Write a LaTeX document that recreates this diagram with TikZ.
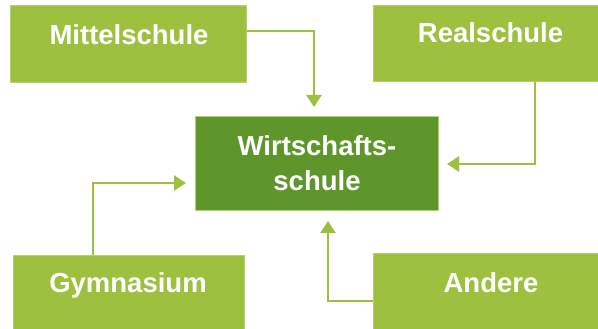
\documentclass[tikz,border=0pt]{standalone}
\usepackage{fontspec}
\setmainfont{Liberation Sans}
\usetikzlibrary{arrows.meta}
\definecolor{lgreen}{HTML}{9DC13F}
\definecolor{lborder}{HTML}{B3D16E}
\definecolor{dgreen}{HTML}{5F962B}
\begin{document}
\begin{tikzpicture}[x=1pt,y=-1pt,
  box/.style={rectangle,fill=lgreen,draw=lborder,line width=1pt,inner sep=0pt,minimum width=#1},
  mainbox/.style={rectangle,fill=dgreen,draw=lborder,line width=1pt,inner sep=0pt},
  lbl/.style={text=white,font=\fontsize{27.5}{35}\selectfont\bfseries,anchor=base,inner sep=0pt},
  conn/.style={draw=lgreen,line width=2.5pt,-{Triangle[length=12pt,width=15pt]}}]
\useasboundingbox (0,0) rectangle (598,329);
\node[box=236pt,minimum height=77pt] (mittel) at (128,44.5) {};
\node[box=227pt,minimum height=76pt] (real) at (486.5,44) {};
\node[mainbox,minimum width=243pt,minimum height=93pt] (wirt) at (316.5,163.5) {};
\node[box=231pt,minimum height=76pt] (gym) at (128.5,293) {};
\node[box=227pt,minimum height=78pt] (andere) at (486.5,292) {};
\node[lbl] (tm) at (129,45) {Mittelschule};
\node[lbl] (tr) at (490.5,43) {Realschule};
\node[lbl] (tw1) at (317,155) {Wirtschafts-};
\node[lbl] (tw2) at (317,190) {schule};
\node[lbl] (tg) at (128,292) {Gymnasium};
\node[lbl] (ta) at (491,292) {Andere};
\coordinate (am) at (314,107);
\coordinate (ar) at (447,164);
\coordinate (ag) at (186,183);
\coordinate (aa) at (328,221);
\draw[conn] ([yshift=13.5pt]mittel.east) -| (am);
\draw[conn] ([xshift=48.5pt]real.south) |- (ar);
\draw[conn] ([xshift=-35.5pt]gym.north) |- (ag);
\draw[conn] ([yshift=-9pt]andere.west) -| (aa);
\end{tikzpicture}
\end{document}
